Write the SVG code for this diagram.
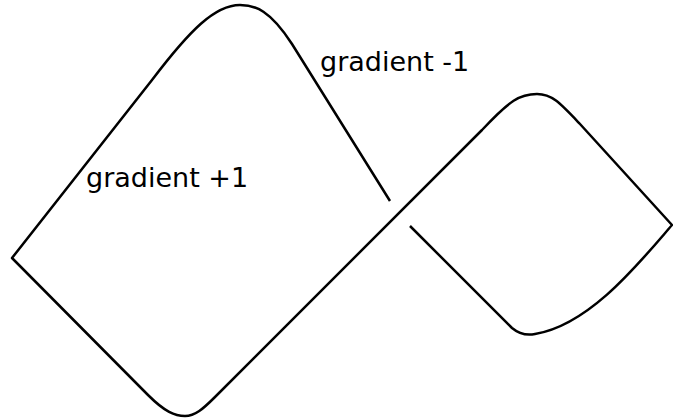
<svg xmlns="http://www.w3.org/2000/svg" width="673" height="420" viewBox="0 0 673 420">
<style>
.curve{fill:none;stroke:#000;stroke-width:2.5;stroke-linejoin:round;stroke-linecap:butt}
.lbl{font-family:"DejaVu Sans",Verdana,sans-serif;font-size:27px;fill:#000}
</style>
<rect width="673" height="420" fill="#fff"/>
<g id="connectors">
<path class="curve" d="M390,201 L292,44 C270,10 255,5 240,5 C215,5 190,30 152,80 L12,258 L148,395 C165,412 175,416 185,416 C195,416 203,409 215,397 L482,130 C510,100 520,94 537,94 C552,94 560,103 580,124 L672,225 C640,262 590,325 535,334 C525,336 518,333 512,328 L410,226"/>
</g>
<g id="label-plus"><text class="lbl" x="86" y="187">gradient +1</text></g>
<g id="label-minus"><text class="lbl" x="320" y="71">gradient -1</text></g>
</svg>
